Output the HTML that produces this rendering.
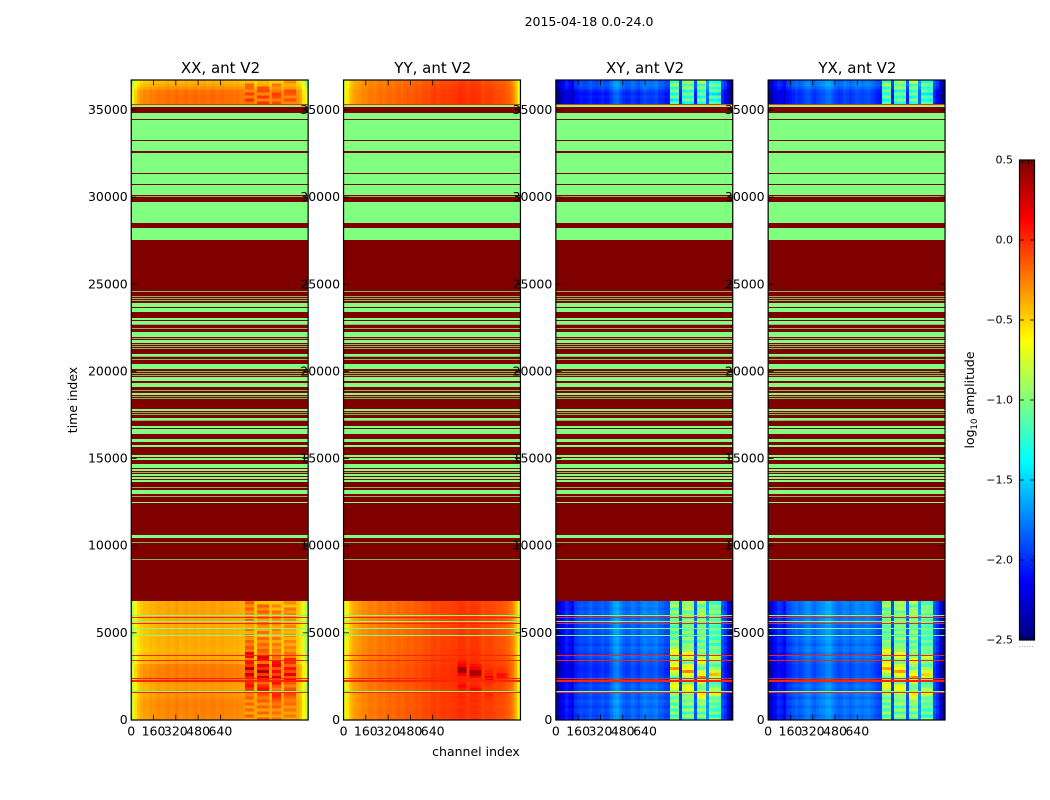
<!DOCTYPE html>
<html>
<head>
<meta charset="utf-8">
<title>2015-04-18 0.0-24.0</title>
<style>
html,body{margin:0;padding:0;background:#fff;}
svg{display:block;}
text{font-family:"DejaVu Sans","Liberation Sans",sans-serif;fill:#000;}
</style>
</head>
<body>
<svg id="figure" xmlns="http://www.w3.org/2000/svg" width="1050" height="800" viewBox="0 0 1050 800">
<rect x="0" y="0" width="1050" height="800" fill="#fff"/>
<text x="589" y="26" text-anchor="middle" font-size="12.5">2015-04-18 0.0-24.0</text>
</svg>
<script>
// ---- tick labels and categories ----
const panelTitles = ["XX, ant V2", "YY, ant V2", "XY, ant V2", "YX, ant V2"];
const xTicks = [0, 160, 320, 480, 640];
const yTicks = [0, 5000, 10000, 15000, 20000, 25000, 30000, 35000];
const cbarTicks = [0.5, 0.0, -0.5, -1.0, -1.5, -2.0, -2.5];

// ---- log10 amplitude per channel bin (59 bins across the band) ----
const xxChannels = [
-0.85,-0.62,-0.5,-0.44,-0.4,-0.41,-0.37,-0.39,-0.36,-0.34,
-0.37,-0.34,-0.32,-0.35,-0.33,-0.31,-0.35,-0.33,-0.31,-0.34,
-0.33,-0.31,-0.34,-0.32,-0.31,-0.34,-0.32,-0.31,-0.34,-0.33,
-0.31,-0.34,-0.33,-0.33,-0.35,-0.34,-0.36,-0.36,-0.32,-0.32,
-0.32,-0.42,-0.32,-0.32,-0.32,-0.32,-0.42,-0.33,-0.33,-0.33,
-0.42,-0.35,-0.35,-0.35,-0.35,-0.42,-0.5,-0.68,-0.88];
const yyChannels = [
-0.7,-0.55,-0.42,-0.35,-0.32,-0.3,-0.26,-0.27,-0.23,-0.22,
-0.25,-0.21,-0.19,-0.22,-0.19,-0.17,-0.2,-0.17,-0.15,-0.18,
-0.15,-0.13,-0.16,-0.13,-0.11,-0.13,-0.1,-0.08,-0.1,-0.06,
-0.05,-0.08,-0.05,-0.04,-0.05,-0.04,-0.03,-0.04,-0.02,-0.02,
-0.03,-0.05,-0.03,-0.03,-0.03,-0.05,-0.08,-0.06,-0.06,-0.07,
-0.08,-0.1,-0.1,-0.12,-0.14,-0.18,-0.25,-0.42,-0.65];
const xyChannels = [
-2.38,-2.26,-2.15,-2.05,-2.1,-2.22,-2.0,-1.95,-1.92,-1.95,
-1.93,-1.87,-1.93,-1.95,-1.92,-1.88,-1.93,-1.9,-1.8,-1.7,
-1.67,-1.77,-1.85,-1.9,-1.87,-1.8,-1.85,-1.9,-1.83,-1.77,
-1.8,-1.83,-1.8,-1.77,-1.85,-1.87,-1.93,-1.95,-1.12,-1.08,
-1.1,-1.95,-1.12,-1.05,-1.05,-1.1,-1.9,-1.12,-1.05,-1.05,
-1.7,-1.12,-1.15,-1.15,-1.2,-1.9,-2.0,-2.22,-2.45];
const yxChannels = [
-2.33,-2.22,-2.12,-2.02,-2.06,-2.16,-1.98,-1.94,-1.89,-1.84,
-1.88,-1.84,-1.78,-1.74,-1.81,-1.86,-1.81,-1.76,-1.74,-1.68,
-1.66,-1.74,-1.81,-1.86,-1.84,-1.78,-1.81,-1.86,-1.81,-1.76,
-1.78,-1.81,-1.78,-1.76,-1.81,-1.86,-1.91,-1.95,-1.12,-1.08,
-1.08,-1.95,-1.12,-1.05,-1.05,-1.1,-1.9,-1.12,-1.05,-1.05,
-1.7,-1.12,-1.15,-1.15,-1.2,-1.9,-2.0,-2.22,-2.45];

// ---- strength of the interference blocks per channel bin, per panel ----
const xxRfiWeight = [
0,0,0,0,0,0,0,0,0,0,
0,0,0,0,0,0,0,0,0,0,
0,0,0,0,0,0,0,0,0,0,
0,0,0,0,0,0,0,0,1,1,
1,0,1,1,1,1,0,0.8,0.8,0.8,
0,0.75,0.75,0.75,0.75,0,0,0,0];
const yyRfiWeight = [
0,0,0,0,0,0,0,0,0,0,
0,0,0,0,0,0,0,0,0,0,
0,0,0,0,0,0,0,0,0,0,
0,0,0,0,0,0,0,0,1,1,
1,0,1,1,0.9,0.9,0,0.55,0.55,0.55,
0,0.4,0.4,0.4,0.3,0,0,0,0];
const xyRfiWeight = [
0,0,0,0,0,0,0,0,0,0,
0,0,0,0,0,0,0,0,0,0,
0,0,0,0,0,0,0,0,0,0,
0,0,0,0,0,0,0,0,1,1,
1,0,1,1,1,1,0,1,1,1,
0,0.9,0.9,0.9,0.9,0,0,0,0];
// row offset applied to each block, so block rows do not line up exactly
const rfiRowShift = [
0,0,0,0,0,0,0,0,0,0,
0,0,0,0,0,0,0,0,0,0,
0,0,0,0,0,0,0,0,0,0,
0,0,0,0,0,0,0,0,0,0,
0,0,1,1,1,1,0,3,3,3,
0,2,2,2,2,0,0,0,0];

// ---- time-row offsets for the lower block (40 rows, time 0 upward) ----
const xxLowRows = [
0.05,0.06,0.07,0.07,0.08,0.08,0.07,0.05,0.03,0.02,
0,0,0.02,0.1,0.1,0.1,0.1,0.1,0.08,-0.02,
-0.04,-0.05,-0.05,-0.06,-0.05,-0.05,-0.04,-0.04,-0.05,-0.05,
-0.05,-0.04,-0.04,-0.03,-0.03,-0.03,-0.02,-0.02,-0.02,-0.02];
const yyLowRows = [
0,0,0.01,0.01,0,0,0.01,0,0,0,
0,0.01,0.01,0.02,0.03,0.03,0.03,0.03,0.02,0.01,
0,-0.01,-0.01,-0.01,-0.02,-0.02,-0.02,-0.02,-0.02,-0.03,
-0.03,-0.03,-0.03,-0.03,-0.03,-0.02,-0.02,-0.02,-0.02,-0.02];
const xyLowRows = [
0.03,-0.02,0.02,0.04,-0.03,0.02,0.05,-0.02,0.02,0.03,
-0.02,0.02,-0.04,-0.05,-0.06,-0.07,-0.08,-0.09,-0.07,-0.05,
-0.02,0.03,-0.02,0.02,0.04,-0.02,0.03,0.04,-0.01,0.03,
0.05,-0.01,0.03,0.06,0.02,0.05,0.08,0.03,0.06,0.05];
const yxLowRows = [
0.02,-0.03,0.03,0.03,-0.02,0.03,0.04,-0.03,0.03,0.02,
-0.03,0.01,-0.04,-0.06,-0.05,-0.08,-0.07,-0.08,-0.07,-0.04,
-0.03,0.02,-0.03,0.03,0.03,-0.03,0.02,0.05,-0.02,0.02,
0.04,-0.02,0.04,0.05,0.03,0.04,0.07,0.04,0.05,0.06];

// ---- extra amplitude in the interference blocks, lower block rows ----
const xxLowRfi = [
-0.1,0.12,-0.12,0.08,-0.1,0.08,-0.08,0.12,0.03,0.15,
0.3,0.42,0.32,0.12,0.28,0.5,0.18,0.6,0.22,0.42,
0.12,0.5,0.55,0.18,0.25,0.12,0.2,0.05,0.18,-0.02,
0.18,0,0.06,0.18,0,0.14,0.05,0.2,0.05,0.2];
const yyLowRfi = [
0,0.02,0,0.02,0,0.03,0,0.02,0.02,0.03,
0.08,0.15,0.05,0.02,0.03,0.12,0.38,0.42,0.15,0.1,
0.03,0.02,0.02,0.03,0.02,0.02,0.02,0.02,0.03,0.02,
0.02,0.02,0.03,0.02,0.02,0.02,0.02,0.03,0.02,0.02];
const xyLowRfi = [
0.1,-0.15,0.2,-0.2,0.2,-0.15,0.15,-0.05,0.15,0.05,
0.4,0.45,0.35,0.05,0.05,0.3,0.45,0.9,0.5,0.4,
0.05,0.2,0.4,0.45,0.15,0.05,0.15,-0.1,0.15,-0.15,
0.12,-0.1,0.08,-0.05,0.08,-0.1,0.15,-0.15,0.2,0.05];
const yxLowRfi = [
0.12,-0.12,0.22,-0.18,0.18,-0.17,0.17,-0.03,0.13,0.07,
0.36,0.47,0.37,0.07,0.03,0.27,0.47,0.82,0.52,0.36,
0.07,0.22,0.36,0.42,0.13,0.07,0.13,-0.08,0.13,-0.13,
0.1,-0.08,0.1,-0.03,0.06,-0.08,0.13,-0.13,0.18,0.07];

// ---- upper block rows (8 rows) ----
const xxHighRows = [0.13,0.14,0.14,0.13,0.12,0.03,-0.03,-0.08];
const yyHighRows = [0,0,0,0,0,-0.02,-0.03,-0.05];
const xyHighRows = [-0.14,-0.16,-0.12,-0.16,-0.1,0,0.04,0.02];
const yxHighRows = [-0.12,-0.14,-0.13,-0.14,-0.11,-0.02,0.05,0.03];
const xxHighRfi = [-0.02,0.18,-0.08,0.15,-0.08,0.12,0.18,-0.03];
const yyHighRfi = [0.02,0.02,0.02,0.02,0.02,0.02,0.02,0.02];
const xyHighRfi = [0.12,-0.18,0.2,-0.1,0.22,-0.18,0.18,-0.12];
const yxHighRfi = [0.1,-0.16,0.22,-0.08,0.2,-0.16,0.2,-0.1];

// ---- flagged time range: saturated amplitude with low-amplitude stripes ----
const flaggedStart = 6828;
const flaggedEnd = 35346;
const flaggedValue = 0.5;
const stripeValue = -1.0;
const stripeStarts = [
35174,34468,33280,32649,31370,30739,30125,29952,28500,27542,
24501,24214,24100,23985,23698,23411,22969,22740,22665,22395,
21977,21844,21615,21477,21363,21248,20904,20772,20617,20158,
19928,19813,19698,19469,19125,18838,18649,18493,18379,17730,
17558,17444,17214,17117,16755,16583,16411,15969,15682,15074,
14936,14460,14288,14156,14001,13811,13656,13295,12968,12756,
12451,10426,10116,9123];
const stripeEnds = [
35289,34847,34428,33240,32552,31329,30698,30010,29740,28248,
24559,24272,24157,24042,23927,23658,23050,22912,22705,22453,
22281,21902,21804,21535,21420,21305,21001,20829,20657,20410,
19986,19871,19756,19681,19354,18895,18746,18551,18436,17845,
17616,17501,17329,17157,16870,16698,16566,16141,15780,15206,
15051,14689,14385,14213,14115,13926,13771,13352,13197,12813,
12526,10615,10156,9181];

// ---- single-row events drawn across the whole band ----
const eventTimes = [35318,5996,5910,5640,5537,5239,4849,3701,3414,2381,2238,1635,1578];
const eventSpans = [57,50,50,50,60,70,50,40,60,60,100,50,60];
const eventValues = [0.0,-1.0,0.02,-1.0,0.02,-1.0,-1.0,0.02,0.02,0.02,0.02,-1.0,0.02];

// ---- axis limits ----
const channelMax = 1270;
const timeMax = 36720;
const cbarMin = -2.5;
const cbarMax = 0.5;

const panelChannels = [xxChannels, yyChannels, xyChannels, yxChannels];
const panelWeights = [xxRfiWeight, yyRfiWeight, xyRfiWeight, xyRfiWeight];
const panelLowRows = [xxLowRows, yyLowRows, xyLowRows, yxLowRows];
const panelLowRfi = [xxLowRfi, yyLowRfi, xyLowRfi, yxLowRfi];
const panelHighRows = [xxHighRows, yyHighRows, xyHighRows, yxHighRows];
const panelHighRfi = [xxHighRfi, yyHighRfi, xyHighRfi, yxHighRfi];

const NS = "http://www.w3.org/2000/svg";
const svg = document.getElementById("figure");
const plotTop = 80, plotBottom = 720, panelWidth = 176.9;
const panelLefts = [131.25, 343.55, 555.85, 768.15];

function yAxis(t){ return plotBottom - (t / timeMax) * (plotBottom - plotTop); }
function xAxis(ch, left){ return left + (ch / channelMax) * panelWidth; }
function clip(v){ return Math.max(0, Math.min(1, v)); }
function jet(v){
  const f = clip((v - cbarMin) / (cbarMax - cbarMin));
  const r = clip(Math.min(4*f - 1.5, -4*f + 4.5));
  const g = clip(Math.min(4*f - 0.5, -4*f + 3.5));
  const b = clip(Math.min(4*f + 0.5, -4*f + 2.5));
  return "rgb(" + Math.round(r*255) + "," + Math.round(g*255) + "," + Math.round(b*255) + ")";
}
function shape(parent, tag, attrs){
  const el = document.createElementNS(NS, tag);
  for (const k in attrs) el.setAttribute(k, attrs[k]);
  parent.appendChild(el);
  return el;
}
function fmtCbar(v){ return (v < 0 ? "\u2212" : "") + Math.abs(v).toFixed(1); }

panelTitles.forEach(function(title, p){
  const left = panelLefts[p];
  const right = left + panelWidth;
  const group = shape(svg, "g", {});
  
  

  const heat = shape(group, "g", {"shape-rendering": "crispEdges"});
  
  

  const channels = panelChannels[p];
  const weights = panelWeights[p];
  const binWidth = channelMax / channels.length;
  function drawBlock(tStart, tEnd, rows, rfi, nameTag){
    const rowSpan = (tEnd - tStart) / rows.length;
    rows.forEach(function(rowOffset, r){
      channels.forEach(function(base, c){
        const value = base + rowOffset + weights[c] * rfi[(r + rfiRowShift[c]) % rfi.length];
        const x0 = xAxis(c * binWidth, left), x1 = xAxis((c + 1) * binWidth, left);
        const y1 = yAxis(tStart + r * rowSpan), y0 = yAxis(tStart + (r + 1) * rowSpan);
        const cell = shape(heat, "rect", {x: x0, y: y0, width: x1 - x0 + 0.4, height: y1 - y0 + 0.4, fill: jet(value)});
        
        
      });
    });
  }
  drawBlock(0, flaggedStart, panelLowRows[p], panelLowRfi[p], 'heatmap-cell-low');
  drawBlock(flaggedEnd, timeMax, panelHighRows[p], panelHighRfi[p], 'heatmap-cell-high');

  const flaggedBand = shape(group, "rect", {x: left, y: yAxis(flaggedEnd), width: panelWidth, height: yAxis(flaggedStart) - yAxis(flaggedEnd), fill: jet(flaggedValue), "shape-rendering": "crispEdges"});
  
  

  stripeStarts.forEach(function(s, i){
    const yTop = yAxis(stripeEnds[i]);
    const yBot = yAxis(s);
    const thin = (yBot - yTop) < 1.3;
    const top = thin ? Math.floor(yTop) : Math.round(yTop);
    const high = thin ? 1 : Math.max(1, Math.round(yBot) - top);
    const stripe = shape(group, "rect", {x: left, y: top, width: panelWidth, height: high, fill: jet(stripeValue), "fill-opacity": thin ? 0.72 : 1, "shape-rendering": "crispEdges"});
    
    
  });
  eventTimes.forEach(function(t, i){
    const yTop = Math.round(yAxis(t + eventSpans[i] / 2));
    const yBot = Math.round(yAxis(t - eventSpans[i] / 2));
    const line = shape(group, "rect", {x: left, y: yTop, width: panelWidth, height: Math.max(1, yBot - yTop), fill: jet(eventValues[i]), "shape-rendering": "crispEdges"});
    
    
  });

  // ticks
  xTicks.forEach(function(t){
    const x = xAxis(t, left);
    const tb = shape(group, "line", {x1: x, x2: x, y1: plotBottom, y2: plotBottom - 5.4, stroke: "#000", "stroke-width": 0.8});
    
    
    const tt = shape(group, "line", {x1: x, x2: x, y1: plotTop, y2: plotTop + 5.4, stroke: "#000", "stroke-width": 0.8});
    
    
    const lab = shape(group, "text", {x: x, y: 735.5, "text-anchor": "middle", "font-size": 12.5});
    lab.textContent = String(t);
    
    
  });
  yTicks.forEach(function(t){
    const y = yAxis(t);
    const tl = shape(group, "line", {x1: left, x2: left + 5.4, y1: y, y2: y, stroke: "#000", "stroke-width": 0.8});
    
    
    const tr = shape(group, "line", {x1: right, x2: right - 5.4, y1: y, y2: y, stroke: "#000", "stroke-width": 0.8});
    
    
    const lab = shape(group, "text", {x: left - 3.5, y: y + 4, "text-anchor": "end", "font-size": 12.5});
    lab.textContent = String(t);
    
    
  });

  const frame = shape(group, "rect", {x: left, y: plotTop, width: panelWidth, height: plotBottom - plotTop, fill: "none", stroke: "#000", "stroke-width": 1.2});
  
  

  const head = shape(group, "text", {x: left + panelWidth / 2 + 0.8, y: 73, "text-anchor": "middle", "font-size": 15});
  head.textContent = title;
  
  
});

// axis labels
const yLabel = shape(svg, "text", {x: 0, y: 0, transform: "translate(77,400) rotate(-90)", "text-anchor": "middle", "font-size": 12.5});
yLabel.textContent = "time index";


const xLabel = shape(svg, "text", {x: 476, y: 756, "text-anchor": "middle", "font-size": 12.5});
xLabel.textContent = "channel index";



// colorbar
const cbLeft = 1019.5, cbWidth = 15, cbTop = 160, cbBottom = 640;
function cbY(v){ return cbBottom - (v - cbarMin) / (cbarMax - cbarMin) * (cbBottom - cbTop); }
const cbar = shape(svg, "g", {"shape-rendering": "crispEdges"});


const cbSteps = 160;
for (let i = 0; i < cbSteps; i++){
  const v0 = cbarMin + (cbarMax - cbarMin) * i / cbSteps;
  const v1 = cbarMin + (cbarMax - cbarMin) * (i + 1) / cbSteps;
  const seg = shape(cbar, "rect", {x: cbLeft, y: cbY(v1), width: cbWidth, height: cbY(v0) - cbY(v1) + 0.5, fill: jet((v0 + v1) / 2)});
  
  
}
cbarTicks.forEach(function(v){
  const y = cbY(v);
  const a = shape(svg, "line", {x1: cbLeft, x2: cbLeft + 4.5, y1: y, y2: y, stroke: "#000", "stroke-width": 0.8});
  
  
  const b = shape(svg, "line", {x1: cbLeft + cbWidth, x2: cbLeft + cbWidth - 4.5, y1: y, y2: y, stroke: "#000", "stroke-width": 0.8});
  
  
  const lab = shape(svg, "text", {x: 1013, y: y + 3.5, "text-anchor": "end", "font-size": 11});
  lab.textContent = fmtCbar(v);
  
  
});
[0.2, 0.4, 0.6, 0.8].forEach(function(frac){
  const x = cbLeft + cbWidth * frac;
  const t1 = shape(svg, "line", {x1: x, x2: x, y1: cbTop, y2: cbTop + 4, stroke: "#000", "stroke-width": 0.8});
  
  
  const t2 = shape(svg, "line", {x1: x, x2: x, y1: cbBottom, y2: cbBottom - 4, stroke: "#000", "stroke-width": 0.8});
  
  
});
const cbFrame = shape(svg, "rect", {x: cbLeft, y: cbTop, width: cbWidth, height: cbBottom - cbTop, fill: "none", stroke: "#000", "stroke-width": 1.2});


const cbDots = shape(svg, "text", {x: 1026.5, y: 647, "text-anchor": "middle", "font-size": 5, "letter-spacing": "0.9", fill: "#555"});
cbDots.textContent = "......";



const cbLabel = shape(svg, "text", {x: 0, y: 0, transform: "translate(974,400) rotate(-90)", "text-anchor": "middle", "font-size": 12.5});


const cbT1 = shape(cbLabel, "tspan", {});
cbT1.textContent = "log";
const cbT2 = shape(cbLabel, "tspan", {dy: 3, "font-size": 8.5});
cbT2.textContent = "10";
const cbT3 = shape(cbLabel, "tspan", {dy: -3});
cbT3.textContent = " amplitude";
</script>
</body>
</html>
